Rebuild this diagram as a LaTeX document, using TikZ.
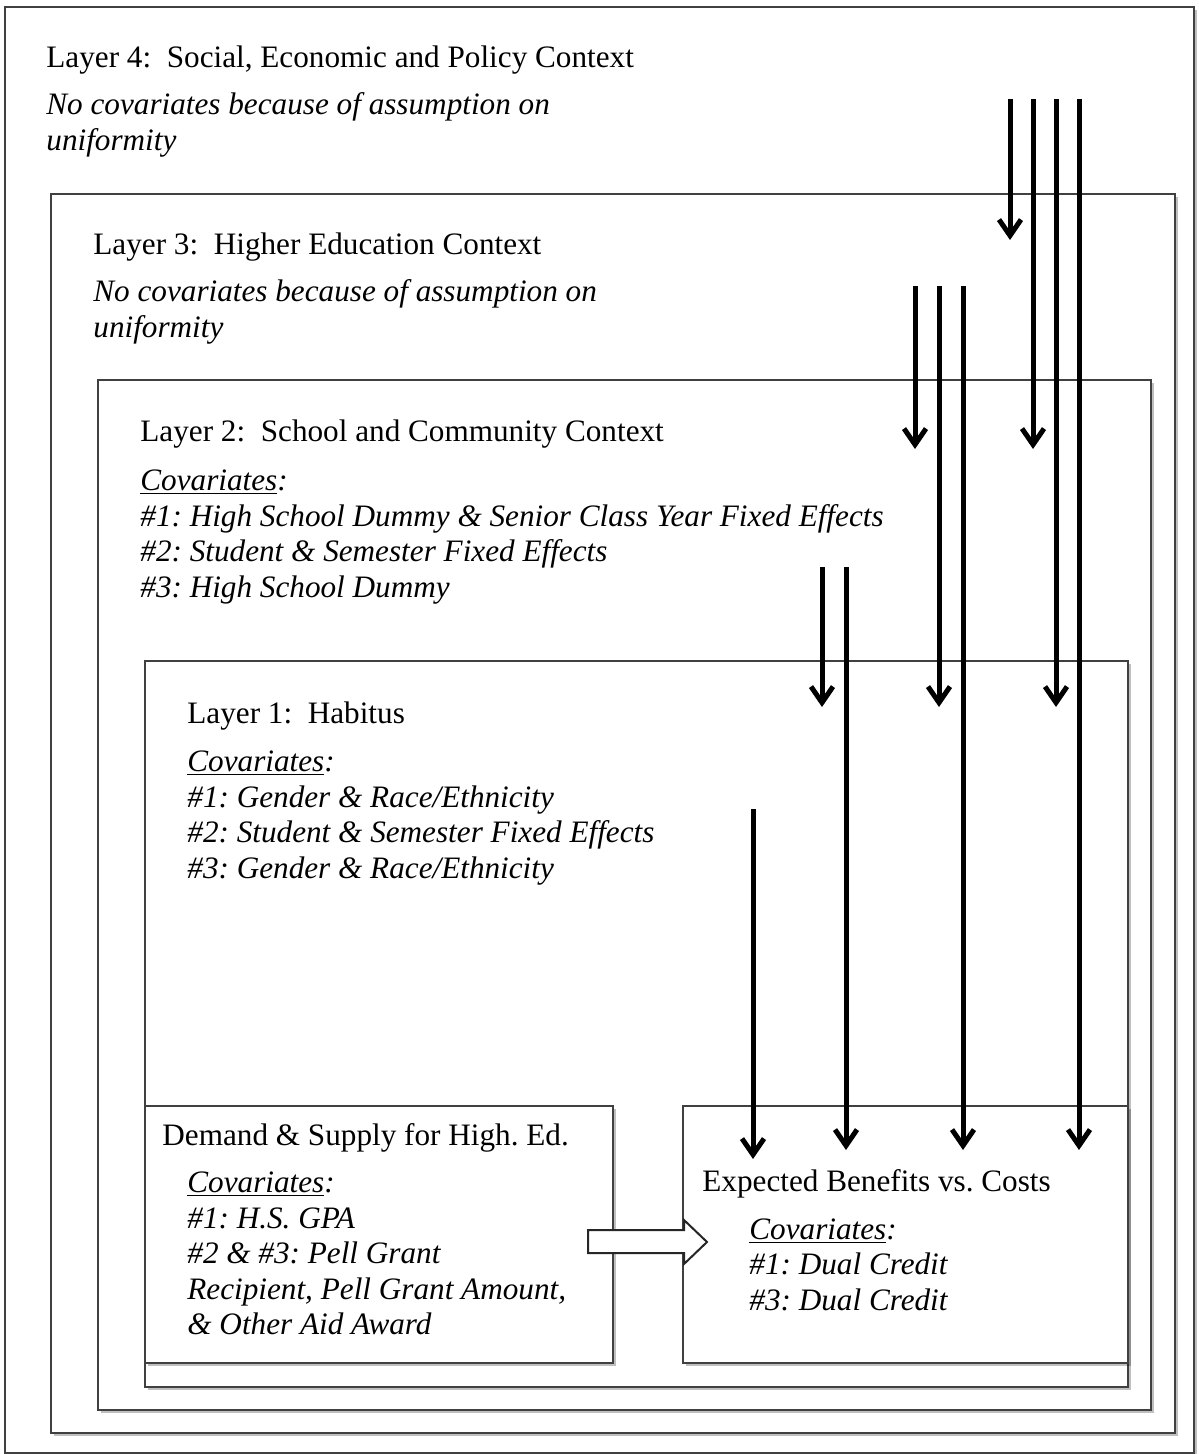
\documentclass[tikz,border=0pt]{standalone}
\usepackage{fontspec}
\setmainfont{Liberation Serif}
\usetikzlibrary{arrows.meta,shadows}
\frenchspacing
\tikzset{
  layerbox/.style={draw=black!75, line width=1pt, fill=white,
    drop shadow={shadow xshift=1.3pt, shadow yshift=-1.3pt, opacity=0.25, fill=black}},
  ttl/.style={anchor=base west, inner sep=0pt, font=\fontsize{15.6}{18}\selectfont},
  itl/.style={anchor=base west, inner sep=0pt, font=\fontsize{15.6}{18}\selectfont\itshape},
  flow/.style={line width=2.5pt, -{Straight Barb[length=8pt,width=11pt,line width=2.5pt]}, shorten >=-1pt},
  hollow/.style={draw=black!85, line width=1pt, fill=white}
}
\newcommand{\cov}{\underline{Covariates}:}
\begin{document}
\begin{tikzpicture}[x=0.5pt,y=-0.5pt]
\useasboundingbox (0,0) rectangle (1198,1454);
% boxes
\node[layerbox, anchor=north west, minimum width=594.5pt, minimum height=723pt, inner sep=0pt] (L4) at (4,6) {};
\node[layerbox, anchor=north west, minimum width=562pt, minimum height=619.5pt, inner sep=0pt] (L3) at (50,193) {};
\node[layerbox, anchor=north west, minimum width=526.5pt, minimum height=515pt, inner sep=0pt] (L2) at (97,379) {};
\node[layerbox, anchor=north west, minimum width=491.5pt, minimum height=363pt, inner sep=0pt] (L1) at (144,660) {};
\node[layerbox, anchor=north west, minimum width=234pt, minimum height=128.5pt, inner sep=0pt] (DS) at (144,1105) {};
\node[layerbox, anchor=north west, minimum width=222.5pt, minimum height=128.5pt, inner sep=0pt] (EB) at (682,1105) {};

% texts layer 4
\node[ttl] (t4) at (46,68) {Layer 4:\ \ Social, Economic and Policy Context};
\node[itl] (t4a) at (46,115) {No covariates because of assumption on};
\node[itl] (t4b) at (46,151) {uniformity};
% layer 3
\node[ttl] (t3) at (93,255) {Layer 3:\ \ Higher Education Context};
\node[itl] (t3a) at (93,302) {No covariates because of assumption on};
\node[itl] (t3b) at (93,338) {uniformity};
% layer 2
\node[ttl] (t2) at (140,442) {Layer 2:\ \ School and Community Context};
\node[itl] (t2a) at (140,490) {\cov};
\node[itl] (t2b) at (140,526) {\#1: High School Dummy \& Senior Class Year Fixed Effects};
\node[itl] (t2c) at (140,561) {\#2: Student \& Semester Fixed Effects};
\node[itl] (t2d) at (140,597) {\#3: High School Dummy};
% layer 1
\node[ttl] (t1) at (187,723) {Layer 1:\ \ Habitus};
\node[itl] (t1a) at (187,771) {\cov};
\node[itl] (t1b) at (187,807) {\#1: Gender \& Race/Ethnicity};
\node[itl] (t1c) at (187,842) {\#2: Student \& Semester Fixed Effects};
\node[itl] (t1d) at (187,878) {\#3: Gender \& Race/Ethnicity};
% demand box
\node[ttl] (td) at (162,1145) {Demand \& Supply for High. Ed.};
\node[itl] (tda) at (187,1192) {\cov};
\node[itl] (tdb) at (187,1228) {\#1: H.S. GPA};
\node[itl] (tdc) at (187,1263) {\#2 \& \#3: Pell Grant};
\node[itl] (tdd) at (187,1299) {Recipient, Pell Grant Amount,};
\node[itl] (tde) at (187,1334) {\& Other Aid Award};
% expected box
\node[ttl] (te) at (702,1191) {Expected Benefits vs. Costs};
\node[itl] (tea) at (749,1239) {\cov};
\node[itl] (teb) at (749,1274) {\#1: Dual Credit};
\node[itl] (tec) at (749,1310) {\#3: Dual Credit};

% hollow arrow from demand to expected
\draw[hollow] (588,1230) -- (684,1230) -- (684,1220) -- (707,1242) -- (684,1264) -- (684,1253) -- (588,1253) -- cycle;

% arrow coordinates
\coordinate (s4a) at (1010,99);  \coordinate (e4a) at (1010,238);
\coordinate (s4b) at (1033,99);  \coordinate (e4b) at (1033,447);
\coordinate (s4c) at (1056,99);  \coordinate (e4c) at (1056,705);
\coordinate (s4d) at (1079,99);  \coordinate (e4d) at (1079,1148);
\coordinate (s3a) at (915,286);  \coordinate (e3a) at (915,447);
\coordinate (s3b) at (939,286);  \coordinate (e3b) at (939,705);
\coordinate (s3c) at (963,286);  \coordinate (e3c) at (963,1148);
\coordinate (s2a) at (822,567);  \coordinate (e2a) at (822,705);
\coordinate (s2b) at (846,567);  \coordinate (e2b) at (846,1148);
\coordinate (s1a) at (753,809);  \coordinate (e1a) at (753,1157);
\foreach \a in {4a,4b,4c,4d,3a,3b,3c,2a,2b,1a}
  \draw[flow] (s\a) -- (e\a);
\end{tikzpicture}
\end{document}
